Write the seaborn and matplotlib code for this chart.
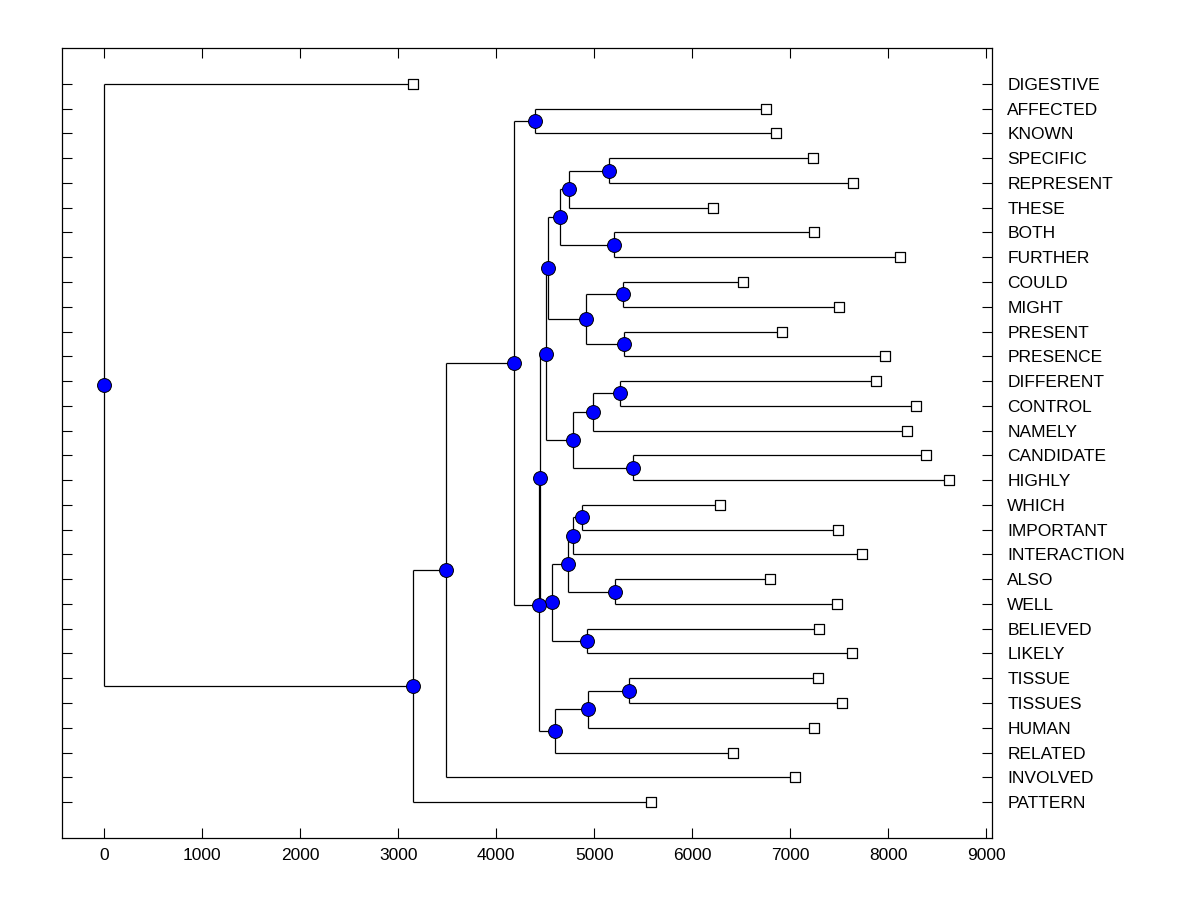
import numpy as np
import pandas as pd
import seaborn as sns
import matplotlib
matplotlib.use('Agg')
import matplotlib.pyplot as plt

# leaves, top to bottom, and the distance where each leaf ends
leaves = ['DIGESTIVE', 'AFFECTED', 'KNOWN', 'SPECIFIC', 'REPRESENT', 'THESE',
          'BOTH', 'FURTHER', 'COULD', 'MIGHT', 'PRESENT', 'PRESENCE',
          'DIFFERENT', 'CONTROL', 'NAMELY', 'CANDIDATE', 'HIGHLY', 'WHICH',
          'IMPORTANT', 'INTERACTION', 'ALSO', 'WELL', 'BELIEVED', 'LIKELY',
          'TISSUE', 'TISSUES', 'HUMAN', 'RELATED', 'INVOLVED', 'PATTERN']
leaf_height = [3153, 6755, 6857, 7232, 7640, 6211,
               7242, 8119, 6517, 7497, 6915, 7966,
               7874, 8283, 8191, 8385, 8619, 6283,
               7487, 7732, 6793, 7477, 7293, 7630,
               7283, 7528, 7242, 6415, 7048, 5579]

# merges (linkage style: index < 30 is a leaf, else merge number 30 + k)
merge_left = [3, 30, 6, 31, 8, 10, 34, 33, 12, 38, 15, 39, 37, 17, 43, 20,
              44, 22, 46, 42, 24, 50, 51, 49, 1, 54, 55, 56, 0]
merge_right = [4, 5, 7, 32, 9, 11, 35, 36, 13, 14, 16, 40, 41, 18, 19, 21,
               45, 23, 47, 48, 25, 26, 27, 52, 2, 53, 28, 29, 57]
merge_height = [5153, 4742, 5204, 4653, 5296, 5306, 4918, 4531, 5265, 4990,
                5398, 4786, 4502, 4878, 4786, 5214, 4735, 4929, 4571, 4449,
                5357, 4939, 4602, 4439, 4398, 4184, 3490, 3153, 0]

n = len(leaves)
xs = list(leaf_height)
ys = list(range(n))
for l, r, h in zip(merge_left, merge_right, merge_height):
    xs.append(h)
    ys.append((ys[l] + ys[r]) / 2)

sns.set_style('white')
plt.rcParams['font.family'] = ['Liberation Sans', 'DejaVu Sans']
plt.rcParams['text.color'] = 'black'
plt.rcParams['xtick.color'] = 'black'
plt.rcParams['ytick.color'] = 'black'

fig = plt.figure(figsize=(12, 9), dpi=100)
ax = fig.add_axes([0.0517, 0.0689, 0.775, 0.8778])

# branches
for k, (l, r, h) in enumerate(zip(merge_left, merge_right, merge_height)):
    ax.vlines(h, ys[l], ys[r], color='black', lw=0.9, zorder=1)
    ax.hlines([ys[l], ys[r]], h, [xs[l], xs[r]], color='black', lw=0.9, zorder=1)

nodes = pd.DataFrame({'x': xs, 'y': ys, 'kind': ['leaf'] * n + ['merge'] * len(merge_height)})
sns.scatterplot(data=nodes[nodes.kind == 'leaf'], x='x', y='y', marker='s', s=55,
                color='white', edgecolor='black', linewidth=0.9, ax=ax, zorder=3)
sns.scatterplot(data=nodes[nodes.kind == 'merge'], x='x', y='y', marker='o', s=100,
                color='#0000FF', edgecolor='black', linewidth=0.7, ax=ax, zorder=4)

ax.set_xlim(-432, 9058)
ax.set_ylim(30.45, -1.45)
ax.set_xticks(range(0, 9001, 1000))
ax.set_yticks(range(n))
ax.set_yticklabels(leaves)
ax.set_xlabel('')
ax.set_ylabel('')
ax.tick_params(axis='x', direction='in', length=7.2, width=0.8, top=True, bottom=True,
               labelsize=12.5, pad=7, color='black', labelcolor='black')
ax.tick_params(axis='y', direction='in', length=7.2, width=0.8, left=True, right=True,
               labelleft=False, labelright=True, labelsize=12.5, pad=11,
               color='black', labelcolor='black')
for lab in ax.get_yticklabels():
    lab.set_horizontalalignment('left')
for sp in ax.spines.values():
    sp.set_visible(True)
    sp.set_color('black')
    sp.set_linewidth(0.9)

fig.savefig('out.png', dpi=100)
